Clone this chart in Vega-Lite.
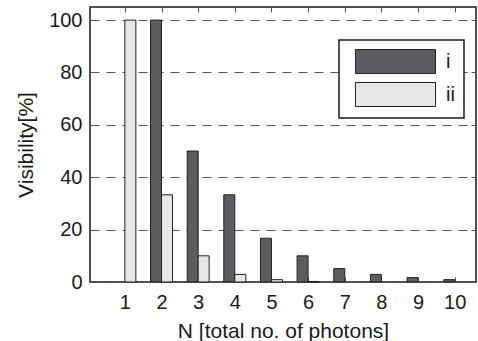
{
  "$schema": "https://vega.github.io/schema/vega-lite/v6.json",
  "autosize": "none",
  "width": 386,
  "height": 275,
  "padding": {"left": 90, "top": 7, "right": 2, "bottom": 59},
  "background": "white",
  "config": {
    "font": "Liberation Sans",
    "view": {"stroke": "#1a1a1a", "strokeWidth": 1.5},
    "axis": {
      "labelFont": "Liberation Sans",
      "titleFont": "Liberation Sans",
      "labelFontSize": 20,
      "titleFontSize": 21,
      "titleFontWeight": "normal",
      "labelColor": "#1a1a1a",
      "titleColor": "#1a1a1a",
      "domain": false,
      "tickSize": -5,
      "tickColor": "#555555",
      "tickWidth": 1
    },
    "legend": {"labelFont": "Liberation Sans"}
  },
  "data": {
    "values": [
      {"N": 1, "series": "ii", "value": 100},
      {"N": 2, "series": "i", "value": 100},
      {"N": 2, "series": "ii", "value": 33.3},
      {"N": 3, "series": "i", "value": 50},
      {"N": 3, "series": "ii", "value": 10},
      {"N": 4, "series": "i", "value": 33.3},
      {"N": 4, "series": "ii", "value": 2.9},
      {"N": 5, "series": "i", "value": 16.7},
      {"N": 5, "series": "ii", "value": 0.9},
      {"N": 6, "series": "i", "value": 10},
      {"N": 6, "series": "ii", "value": 0.2},
      {"N": 7, "series": "i", "value": 5.1},
      {"N": 8, "series": "i", "value": 2.9},
      {"N": 9, "series": "i", "value": 1.7},
      {"N": 10, "series": "i", "value": 0.9}
    ]
  },
  "layer": [
    {
      "transform": [{"filter": "datum.series === 'i'"}],
      "mark": {"type": "bar", "width": 11, "xOffset": -5.5, "stroke": "#222222", "strokeWidth": 1},
      "encoding": {
        "x": {
          "field": "N", "type": "quantitative",
          "scale": {"domain": [0.185, 10.445], "nice": false, "zero": false},
          "axis": {"orient": "bottom", "values": [1,2,3,4,5,6,7,8,9,10], "grid": false, "labelPadding": 15, "title": "N [total no. of photons]", "titlePadding": 8}
        },
        "y": {
          "field": "value", "type": "quantitative",
          "scale": {"domain": [0, 105], "nice": false},
          "axis": {"orient": "left", "values": [0,20,40,60,80,100], "grid": true, "gridDash": [9, 7], "gridColor": "#555555", "gridWidth": 1, "labelPadding": 13, "title": "Visibility[%]", "titlePadding": 12}
        },
        "color": {
          "field": "series", "type": "nominal",
          "scale": {"domain": ["i", "ii"], "range": ["#5c5d61", "#e6e6e6"]},
          "legend": {
            "orient": "none", "legendX": 249, "legendY": 33,
            "title": null,
            "symbolType": "M-0.42,-1H6.25V1H-0.42Z",
            "symbolSize": 576,
            "symbolStrokeColor": "#222222",
            "symbolStrokeWidth": 1,
            "symbolOpacity": 1,
            "labelFontSize": 20,
            "labelColor": "#1a1a1a",
            "labelOffset": 73,
            "rowPadding": 4,
            "padding": 9,
            "strokeColor": "#1a1a1a",
            "fillColor": "white",
            "encode": {"legend": {"update": {"strokeWidth": {"value": 1.5}}}}
          }
        }
      }
    },
    {
      "transform": [{"filter": "datum.series === 'ii'"}],
      "mark": {"type": "bar", "width": 11, "xOffset": 5.5, "stroke": "#222222", "strokeWidth": 1},
      "encoding": {
        "x": {
          "field": "N", "type": "quantitative",
          "axis": {"orient": "top", "values": [1,2,3,4,5,6,7,8,9,10], "grid": false, "labels": false, "title": null}
        },
        "y": {
          "field": "value", "type": "quantitative",
          "axis": {"orient": "right", "values": [0,20,40,60,80,100], "grid": false, "labels": false, "title": null}
        },
        "color": {"field": "series", "type": "nominal"}
      }
    }
  ],
  "resolve": {"axis": {"x": "independent", "y": "independent"}}
}
